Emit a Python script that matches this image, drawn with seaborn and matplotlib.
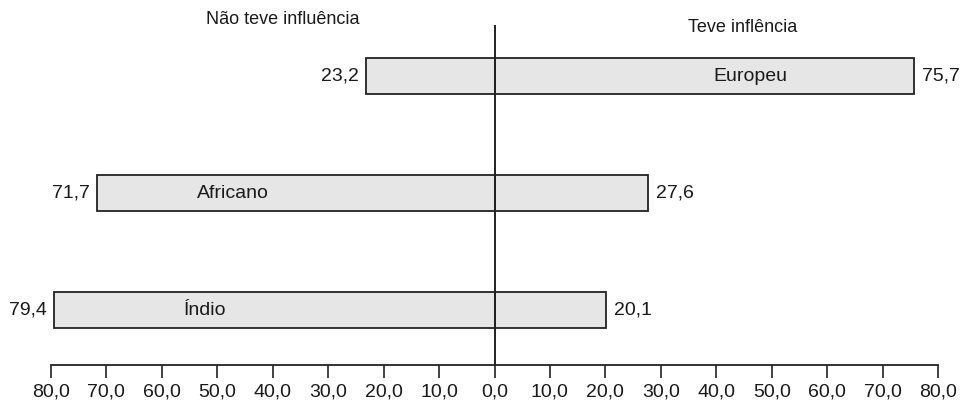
import matplotlib
matplotlib.use("Agg")
import matplotlib.pyplot as plt
import seaborn as sns
import pandas as pd

categories = ["Europeu", "Africano", "Índio"]
nao_teve = [23.2, 71.7, 79.4]
teve = [75.7, 27.6, 20.1]
tick_values = [-80, -70, -60, -50, -40, -30, -20, -10, 0, 10, 20, 30, 40, 50, 60, 70, 80]
tick_labels = ["80,0", "70,0", "60,0", "50,0", "40,0", "30,0", "20,0", "10,0", "0,0",
               "10,0", "20,0", "30,0", "40,0", "50,0", "60,0", "70,0", "80,0"]
header_left = "Não teve influência"
header_right = "Teve inflência"

sns.set_theme(style="white")
plt.rcParams["font.family"] = ["Liberation Sans", "DejaVu Sans"]

df = pd.DataFrame({"cat": categories, "neg": [-v for v in nao_teve], "pos": teve})

W, H = 964, 403
x0, x1 = 51, 938
y_top, y_axis = 25, 365
fig = plt.figure(figsize=(W / 100, H / 100), dpi=100)
ax = fig.add_axes([x0 / W, (H - y_axis) / H, (x1 - x0) / W, (y_axis - y_top) / H])

txt = "#1a1a1a"
line = "#222222"
bar_kw = dict(orient="h", color="#e6e6e6", edgecolor=line, linewidth=1.3,
              width=0.316, saturation=1, ax=ax)
sns.barplot(data=df, x="neg", y="cat", **bar_kw)
sns.barplot(data=df, x="pos", y="cat", **bar_kw)

ax.set_xlim(-80, 80)
ax.set_ylim(2.47, -0.436)
ax.axvline(0, color=line, linewidth=1.4, zorder=5)

ax.set_xticks(tick_values)
ax.set_xticklabels(tick_labels, fontsize=14, color=txt)
ax.set_yticks([])
ax.set_xlabel("")
ax.set_ylabel("")
ax.tick_params(axis="x", direction="out", length=9, width=1.2, color=line, pad=4,
               bottom=True)
for s in ["top", "right", "left"]:
    ax.spines[s].set_visible(False)
ax.spines["bottom"].set_color(line)
ax.spines["bottom"].set_linewidth(1.3)

label_x = [46.2, -47.1, -52.3]
for i, cat in enumerate(categories):
    ax.text(-nao_teve[i] - 1.3, i, f"{nao_teve[i]:.1f}".replace(".", ","),
            ha="right", va="center", fontsize=14, color=txt)
    ax.text(teve[i] + 1.5, i, f"{teve[i]:.1f}".replace(".", ","),
            ha="left", va="center", fontsize=14, color=txt)
    ax.text(label_x[i], i, cat, ha="center", va="center", fontsize=14, color=txt)

fig.text(283 / W, 1 - 20 / H, header_left, ha="center", va="center",
         fontsize=13, color=txt)
fig.text(743 / W, 1 - 28 / H, header_right, ha="center", va="center",
         fontsize=13, color=txt)

fig.savefig("out.png", dpi=100)
